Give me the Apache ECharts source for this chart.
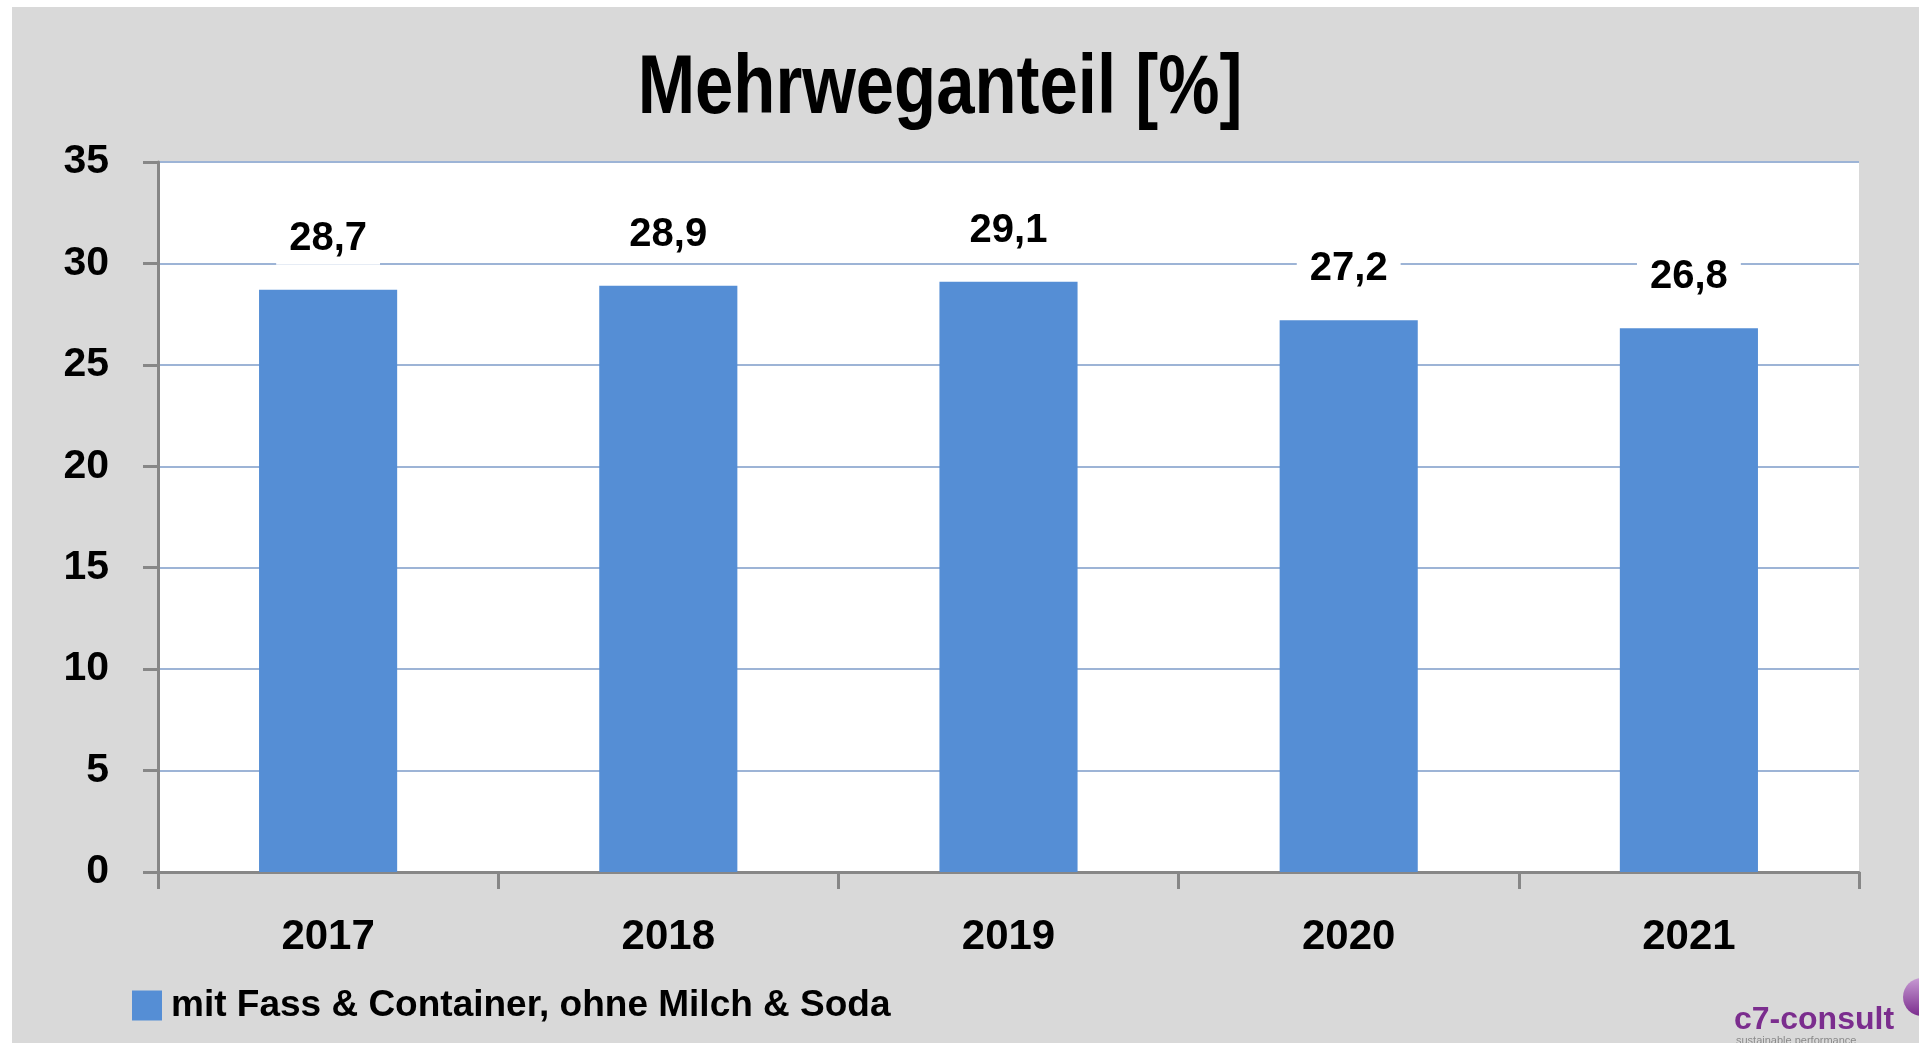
<!DOCTYPE html>
<html>
<head>
<meta charset="utf-8">
<title>Mehrweganteil</title>
<script src="https://cdn.jsdelivr.net/npm/echarts@6/dist/echarts.min.js"></script>
<style>
  html, body { margin: 0; padding: 0; background: #fff; }
  #frame { position: absolute; left: 12px; top: 7px; right: 0; bottom: 0; background: #d9d9d9; }
  #chart { position: absolute; left: 0; top: 0; width: 1919px; height: 1043px; }
</style>
</head>
<body>
<div id="frame"></div>
<div id="chart"></div>
<script>
  // Werte
  let years = ['2017', '2018', '2019', '2020', '2021'];
  let shares = [28.7, 28.9, 29.1, 27.2, 26.8];
  let seriesName = 'mit Fass & Container, ohne Milch & Soda';
  let titleText = 'Mehrweganteil [%]';
  let yTicks = {min: 0, max: 35, step: 5};

  let axisGrey = '#878787';
  let barColor = '#558ed5';

  let chart = echarts.init(document.getElementById('chart'));

  let option = {
    backgroundColor: 'transparent',
    animation: false,
    legend: {
      left: 127,
      top: 982,
      itemWidth: 30,
      itemHeight: 30,
      icon: 'rect',
      textStyle: {
        fontFamily: 'Liberation Sans',
        fontWeight: 'bold',
        fontSize: 37,
        color: '#000',
        padding: [0, 0, 0, 4]
      },
      data: [seriesName]
    },
    grid: {
      left: 158,
      top: 162,
      right: 60,
      bottom: 171,
      show: true,
      backgroundColor: '#fff',
      borderWidth: 0
    },
    xAxis: {
      type: 'category',
      data: years,
      axisLine: {lineStyle: {color: axisGrey, width: 3}},
      axisTick: {show: true, length: 17, lineStyle: {color: axisGrey, width: 3}},
      axisLabel: {
        margin: 44,
        fontFamily: 'Liberation Sans',
        fontWeight: 'bold',
        fontSize: 42,
        color: '#000'
      }
    },
    yAxis: {
      type: 'value',
      min: yTicks.min,
      max: yTicks.max,
      interval: yTicks.step,
      axisLine: {show: true, lineStyle: {color: axisGrey, width: 3}},
      axisTick: {show: true, length: 15, lineStyle: {color: axisGrey, width: 3}},
      axisLabel: {
        margin: 49,
        fontFamily: 'Liberation Sans',
        fontWeight: 'bold',
        fontSize: 41,
        color: '#000'
      },
      splitLine: {lineStyle: {color: '#9db4d6', width: 2}}
    },
    graphic: [
      // Titel: schmale Schrift gibt es nicht, daher horizontal gestaucht
      {
        type: 'text',
        x: 940,
        y: 90,
        scaleX: 0.82,
        style: {
          text: titleText,
          align: 'center',
          verticalAlign: 'middle',
          fontFamily: 'Liberation Sans',
          fontWeight: 'bold',
          fontSize: 84,
          fill: '#000'
        }
      },
      {
        type: 'circle',
        shape: {cx: 1922, cy: 997, r: 19},
        style: {
          fill: new echarts.graphic.LinearGradient(0, 0, 0, 1, [
            {offset: 0, color: '#c79ad3'},
            {offset: 1, color: '#7b2d8e'}
          ])
        }
      },
      {
        type: 'text',
        left: 1734,
        top: 1004,
        style: {
          text: 'c7-consult',
          fontFamily: 'Liberation Sans',
          fontWeight: 'bold',
          fontSize: 32,
          fill: '#7b2d8e'
        }
      },
      {
        type: 'text',
        left: 1736,
        top: 1035,
        style: {
          text: 'sustainable performance',
          fontFamily: 'Liberation Sans',
          fontSize: 11,
          fill: '#8a8a8a'
        }
      }
    ],
    series: [
      {
        name: seriesName,
        type: 'bar',
        data: shares,
        barWidth: '40.6%',
        itemStyle: {color: barColor},
        label: {
          show: true,
          position: 'top',
          distance: 25,
          formatter: function (p) {
            return p.value.toFixed(1).replace('.', ',');
          },
          fontFamily: 'Liberation Sans',
          fontWeight: 'bold',
          fontSize: 40,
          color: '#000',
          backgroundColor: '#fff',
          padding: [6, 13]
        }
      }
    ]
  };

  chart.setOption(option);
</script>
</body>
</html>
